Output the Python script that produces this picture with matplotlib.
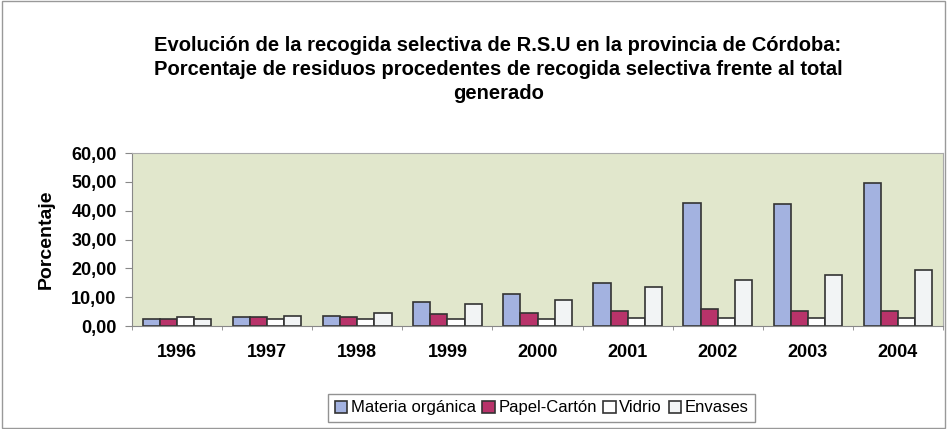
import numpy as np
import matplotlib.pyplot as plt
from matplotlib.patches import Rectangle
from matplotlib.ticker import FuncFormatter

plt.rcParams['font.family'] = ['Liberation Sans', 'DejaVu Sans']

years = ['1996', '1997', '1998', '1999', '2000', '2001', '2002', '2003', '2004']
materia_organica = [2.5, 3.0, 3.5, 8.5, 11.0, 14.8, 42.8, 42.2, 49.8]
papel_carton = [2.5, 3.0, 3.0, 4.3, 4.6, 5.3, 5.8, 5.2, 5.2]
vidrio = [3.0, 2.5, 2.5, 2.6, 2.6, 2.8, 2.8, 2.8, 2.8]
envases = [2.5, 3.5, 4.5, 7.6, 9.0, 13.6, 16.0, 17.7, 19.4]

series = [('Materia orgánica', materia_organica, '#a3b2e0'),
          ('Papel-Cartón', papel_carton, '#b8336a'),
          ('Vidrio', vidrio, '#ffffff'),
          ('Envases', envases, '#f2f4f5')]

fig = plt.figure(figsize=(9.47, 4.29), dpi=100)
ax = fig.add_axes([0.1394, 0.240, 0.8564, 0.403])
ax.set_facecolor('#e1e7cc')

x = np.arange(len(years))
w = 0.19
for i, (name, vals, col) in enumerate(series):
    ax.bar(x + (i - 1.5) * w, vals, w, color=col, edgecolor='#333333',
           linewidth=1.2, label=name)

ax.set_xlim(-0.5, len(years) - 0.5)
ax.set_ylim(0, 60)
ax.set_yticks(np.arange(0, 61, 10))
ax.yaxis.set_major_formatter(FuncFormatter(lambda v, p: f'{v:.2f}'.replace('.', ',')))
ax.set_xticks(x)
ax.set_xticklabels(years, fontweight='bold', fontsize=13)
ax.set_xticks(np.arange(-0.5, len(years), 1), minor=True)
ax.tick_params(axis='x', which='major', length=0, pad=13)
ax.tick_params(axis='x', which='minor', length=3, color='#888888')
ax.tick_params(axis='y', length=5, color='#888888', labelsize=13, pad=6)
for t in ax.get_yticklabels():
    t.set_fontweight('bold')
ax.set_ylabel('Porcentaje', fontweight='bold', fontsize=14, labelpad=12)

for s in ['top', 'right']:
    ax.spines[s].set_color('#aaaaaa')
for s in ['left', 'bottom']:
    ax.spines[s].set_color('#888888')

fig.text(0.526, 0.838,
         'Evolución de la recogida selectiva de R.S.U en la provincia de Córdoba:\n'
         'Porcentaje de residuos procedentes de recogida selectiva frente al total\n'
         'generado',
         ha='center', va='center', fontsize=14.5, fontweight='bold', linespacing=1.35)

leg = fig.legend(loc='center', bbox_to_anchor=(0.572, 0.049), ncol=4,
                 frameon=True, fancybox=False, edgecolor='#777777', fontsize=12,
                 handlelength=0.75, handleheight=0.75, handletextpad=0.2,
                 columnspacing=0.4, borderpad=0.4)
leg.get_frame().set_linewidth(1.0)

fig.patches.append(Rectangle((0.002, 0.002), 0.996, 0.996, transform=fig.transFigure,
                             fill=False, edgecolor='#999999', linewidth=1))

plt.savefig('out.png', dpi=100)
